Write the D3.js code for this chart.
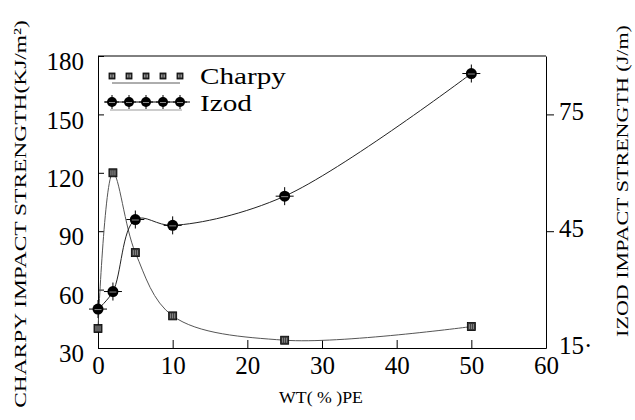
<!DOCTYPE html>
<html>
<head>
<meta charset="utf-8">
<script src="https://cdn.jsdelivr.net/npm/d3@7"></script>
<style>
  body { margin: 0; background: #fff; }
  .axis path, .axis line { stroke: #000; stroke-width: 1; }
</style>
</head>
<body>
<div id="chart"></div>
<script>
// data
var wtPE = [0, 2, 5, 10, 25, 50];
var charpy = [40, 120, 79, 46.5, 34, 41];      // KJ/m2, left axis
var izod = [25, 29.5, 48, 46.5, 54, 85.5];     // J/m, right axis
var xTicks = [0, 10, 20, 30, 40, 50, 60];
var leftTicks = [30, 60, 90, 120, 150, 180];
var rightTicks = [15, 45, 75];

var svgWidth = 635, svgHeight = 420;
var plot = { left: 98, right: 546, top: 56, bottom: 348 };
var FONT = "'Liberation Serif'";

var svg = d3.select("#chart").append("svg")
    .attr("width", svgWidth)
    .attr("height", svgHeight);

var x = d3.scaleLinear().domain([0, 60]).range([plot.left, plot.right]);
var yL = d3.scaleLinear().domain([30, 180]).range([plot.bottom, plot.top]);
var yR = d3.scaleLinear().domain([15, 90]).range([plot.bottom, plot.top]);

// widen a text (drawn at 0,0 inside its own group) to a given width
function stretch(text, w) {
    var len = text.node().getComputedTextLength();
    if (len > 0) text.attr("transform", `scale(${w / len},1)`);
}

// top border
svg.append("line")
    .attr("x1", plot.left).attr("x2", plot.right)
    .attr("y1", plot.top).attr("y2", plot.top)
    .attr("stroke", "#000").attr("stroke-width", 1);

// axes
var leftAxis = svg.append("g").attr("class", "axis")
    .attr("transform", `translate(${plot.left},0)`)
    .call(d3.axisLeft(yL).tickValues(leftTicks).tickSizeInner(-6).tickSizeOuter(0).tickPadding(14));
leftAxis.selectAll("text").attr("font-size", 25).attr("dy", "0.55em");

var bottomAxis = svg.append("g").attr("class", "axis")
    .attr("transform", `translate(0,${plot.bottom})`)
    .call(d3.axisBottom(x).tickValues(xTicks).tickSizeInner(-8).tickSizeOuter(0).tickPadding(8));
bottomAxis.selectAll("text").attr("font-size", 25);

var rightAxis = svg.append("g").attr("class", "axis")
    .attr("transform", `translate(${plot.right},0)`)
    .call(d3.axisRight(yR).tickValues(rightTicks).tickSizeInner(8).tickSizeOuter(0).tickPadding(5)
        .tickFormat(d => d === 15 ? "15·" : d));
rightAxis.selectAll("text").attr("font-size", 25).attr("dy", "0.2em");
rightAxis.selectAll(".tick line").filter(d => d === 15).remove();

[leftAxis, bottomAxis, rightAxis].forEach(a => {
    a.attr("font-family", null);
    a.selectAll("text").style("font-family", FONT).attr("fill", "#000");
});

// axis titles
function title(tr, label, size, w) {
    var t = svg.append("g").attr("transform", tr)
        .append("text")
        .attr("text-anchor", "middle")
        .attr("font-size", size)
        .style("font-family", FONT)
        .attr("fill", "#000")
        .text(label);
    stretch(t, w);
}
title("translate(26,214) rotate(-90)", "CHARPY IMPACT STRENGTH(KJ/m²)", 17, 388);
title("translate(628,181) rotate(-90)", "IZOD IMPACT STRENGTH (J/m)", 17, 312);
title("translate(321,403)", "WT( % )PE", 17, 84);

// curves
var charpyData = wtPE.map((d, i) => ({ x: d, y: charpy[i] }));
var izodData = wtPE.map((d, i) => ({ x: d, y: izod[i] }));

var charpyLine = d3.line()
    .x(d => x(d.x)).y(d => yL(d.y))
    .curve(d3.curveCatmullRom.alpha(0.5));
var izodLine = d3.line()
    .x(d => x(d.x)).y(d => yR(d.y))
    .curve(d3.curveCatmullRom.alpha(0.5));

svg.append("path").datum(charpyData)
    .attr("d", charpyLine)
    .attr("fill", "none").attr("stroke", "#555").attr("stroke-width", 1);
svg.append("path").datum(izodData)
    .attr("d", izodLine)
    .attr("fill", "none").attr("stroke", "#222").attr("stroke-width", 1);

// markers
function charpyMark(g, size) {
    var h = size / 2;
    g.append("rect")
        .attr("x", -h).attr("y", -h).attr("width", size).attr("height", size)
        .attr("fill", "#333").attr("stroke", "#000").attr("stroke-width", 0.8);
    [-h / 2, 0, h / 2].forEach(dx => {
        g.append("line")
            .attr("x1", dx).attr("x2", dx).attr("y1", -h + 1.5).attr("y2", h - 1.5)
            .attr("stroke", "#aaa").attr("stroke-width", 0.8);
    });
}

function izodMark(g, r, arm) {
    g.append("line").attr("x1", -arm).attr("x2", arm).attr("y1", 0).attr("y2", 0)
        .attr("stroke", "#000").attr("stroke-width", 1);
    g.append("line").attr("x1", 0).attr("x2", 0).attr("y1", -arm).attr("y2", arm)
        .attr("stroke", "#000").attr("stroke-width", 1);
    g.append("circle").attr("r", r).attr("fill", "#000");
    g.append("line").attr("x1", -r + 2).attr("x2", r - 2).attr("y1", 0.5).attr("y2", 0.5)
        .attr("stroke", "#888").attr("stroke-width", 1);
}

svg.append("g").selectAll("g")
    .data(izodData).enter().append("g")
    .attr("transform", d => `translate(${x(d.x)},${yR(d.y)})`)
    .each(function() { izodMark(d3.select(this), 5.5, 9); });

svg.append("g").selectAll("g")
    .data(charpyData).enter().append("g")
    .attr("transform", d => `translate(${x(d.x)},${yL(d.y)})`)
    .each(function() { charpyMark(d3.select(this), 8); });

// legend
var legend = svg.append("g");
var legendXs = [112, 129, 146, 163, 180];

legend.append("line")
    .attr("x1", 112).attr("x2", 180).attr("y1", 83).attr("y2", 83)
    .attr("stroke", "#333").attr("stroke-width", 0.8);
legendXs.forEach(lx => {
    charpyMark(legend.append("g").attr("transform", `translate(${lx},76)`), 6);
});
var charpyLabel = legend.append("g").attr("transform", "translate(200,84)")
    .append("text")
    .attr("font-size", 23).style("font-family", FONT).attr("fill", "#000")
    .text("Charpy");
stretch(charpyLabel, 86);

legend.append("line")
    .attr("x1", 104).attr("x2", 190).attr("y1", 102).attr("y2", 102)
    .attr("stroke", "#000").attr("stroke-width", 1);
legend.append("line")
    .attr("x1", 110).attr("x2", 182).attr("y1", 110).attr("y2", 110)
    .attr("stroke", "#555").attr("stroke-width", 0.6);
legendXs.forEach(lx => {
    izodMark(legend.append("g").attr("transform", `translate(${lx},102)`), 5, 7);
});
var izodLabel = legend.append("g").attr("transform", "translate(200,111)")
    .append("text")
    .attr("font-size", 23).style("font-family", FONT).attr("fill", "#000")
    .text("Izod");
stretch(izodLabel, 52);
</script>
</body>
</html>
